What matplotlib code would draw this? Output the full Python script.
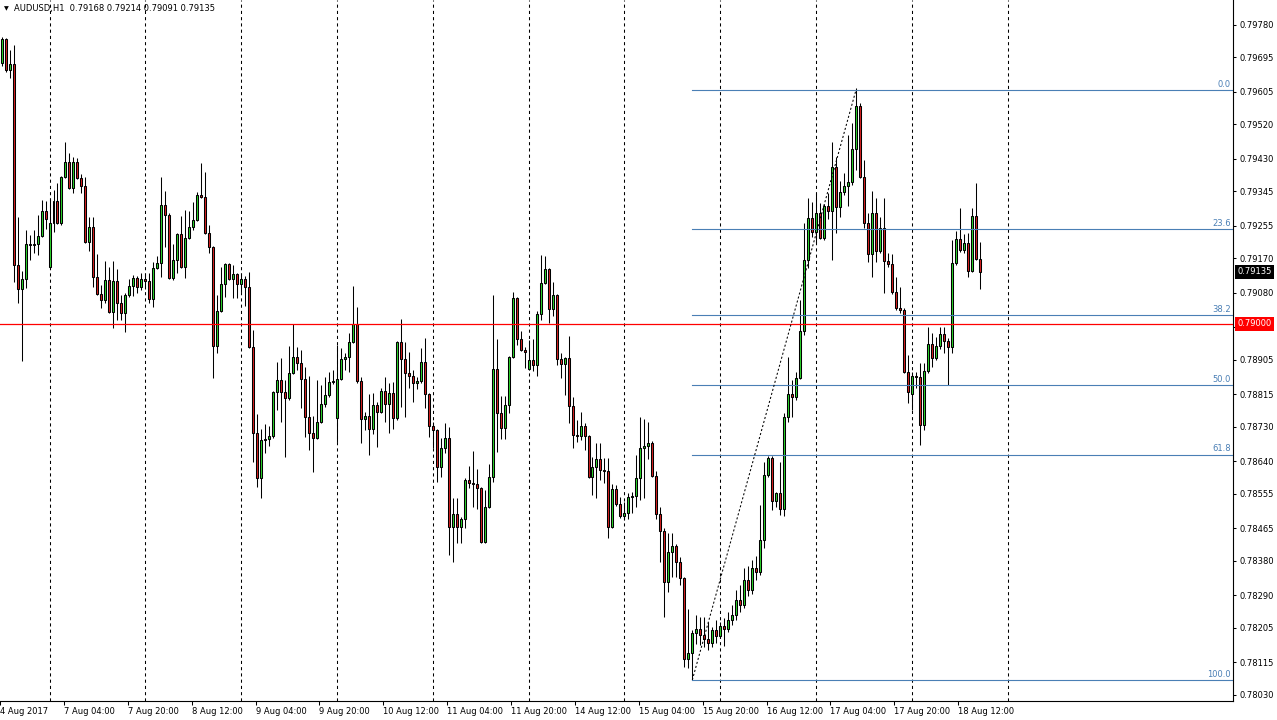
import matplotlib
matplotlib.use("Agg")
import matplotlib.pyplot as plt
from matplotlib.patches import Rectangle
from matplotlib.transforms import blended_transform_factory
import numpy as np

# AUDUSD H1 candles, prices in points (1 point = 0.00001)
open_pts = [
    79680, 79743, 79662, 79678, 79153, 79090, 79116, 79208, 79205, 79208, 79229, 79294,
    79148, 79263, 79320, 79263, 79383, 79422, 79354, 79422, 79380, 79359, 79213, 79252,
    79121, 79077, 79061, 79114, 79030, 79111, 79054, 79027, 79074, 79098, 79119, 79095,
    79116, 79112, 79064, 79145, 79158, 79310, 79283, 79119, 79166, 79234, 79148, 79223,
    79252, 79270, 79336, 79330, 79236, 79200, 78941, 79033, 79103, 79155, 79116, 79129,
    79103, 79116, 79095, 78939, 78714, 78597, 78696, 78699, 78706, 78821, 78852, 78821,
    78805, 78871, 78913, 78897, 78855, 78756, 78714, 78701, 78743, 78790, 78813, 78847,
    78753, 78855, 78907, 78913, 78952, 78999, 78850, 78751, 78758, 78725, 78787, 78769,
    78824, 78790, 78818, 78753, 78952, 78907, 78871, 78863, 78845, 78850, 78900, 78816,
    78732, 78722, 78625, 78675, 78701, 78469, 78502, 78469, 78489, 78591, 78583, 78580,
    78570, 78429, 78521, 78599, 78881, 78766, 78727, 78787, 78913, 79067, 78960, 78931,
    78881, 78905, 78892, 79025, 79106, 79142, 79038, 79074, 78907, 78894, 78910, 78785,
    78709, 78706, 78732, 78706, 78599, 78625, 78646, 78617, 78615, 78469, 78568, 78529,
    78497, 78505, 78547, 78550, 78597, 78675, 78680, 78688, 78602, 78502, 78458, 78325,
    78403, 78419, 78377, 78335, 78124, 78139, 78192, 78202, 78186, 78176, 78165, 78199,
    78184, 78210, 78202, 78226, 78239, 78278, 78265, 78330, 78304, 78361, 78351, 78435,
    78604, 78649, 78536, 78558, 78515, 78756, 78816, 78808, 78858, 78980, 79166, 79276,
    79239, 79289, 79223, 79307, 79294, 79409, 79304, 79344, 79359, 79370, 79456, 79568,
    79383, 79263, 79182, 79289, 79189, 79250, 79163, 79155, 79082, 79040, 79036, 78873,
    78815, 78863, 78860, 78735, 78876, 78946, 78910, 78941, 78973, 78954, 78939, 79158,
    79221, 79192, 79210, 79137, 79281, 79168,
]
high_pts = [
    79748, 79746, 79714, 79727, 79278, 79137, 79244, 79231, 79244, 79283, 79323, 79320,
    79328, 79349, 79367, 79385, 79474, 79445, 79435, 79432, 79391, 79383, 79278, 79278,
    79182, 79101, 79163, 79148, 79163, 79142, 79074, 79080, 79116, 79127, 79124, 79132,
    79132, 79132, 79161, 79176, 79383, 79346, 79289, 79208, 79236, 79281, 79297, 79294,
    79317, 79344, 79419, 79396, 79257, 79202, 79074, 79148, 79158, 79158, 79153, 79132,
    79132, 79124, 79135, 78983, 78764, 78725, 78738, 78732, 78823, 78900, 78910, 78852,
    78941, 78999, 78939, 78931, 78886, 78863, 78758, 78852, 78839, 78860, 78873, 78879,
    78944, 78936, 78923, 78975, 79098, 79043, 78860, 78769, 78816, 78818, 78795, 78832,
    78860, 78845, 78847, 78955, 79012, 78952, 78926, 78879, 78860, 78936, 78962, 78818,
    78743, 78724, 78701, 78740, 78730, 78544, 78544, 78495, 78597, 78628, 78667, 78620,
    78572, 78565, 78633, 79074, 78960, 78811, 78811, 78915, 79082, 79069, 78980, 78939,
    78957, 78960, 79033, 79179, 79176, 79145, 79108, 79077, 78923, 78913, 78967, 78808,
    78748, 78769, 78740, 78709, 78651, 78688, 78688, 78649, 78649, 78581, 78578, 78547,
    78534, 78557, 78560, 78657, 78756, 78751, 78743, 78693, 78615, 78521, 78466, 78453,
    78453, 78424, 78390, 78337, 78254, 78199, 78239, 78233, 78233, 78220, 78207, 78226,
    78220, 78231, 78247, 78265, 78304, 78317, 78361, 78367, 78382, 78393, 78526, 78638,
    78654, 78654, 78560, 78638, 78766, 78913, 78852, 78873, 79061, 79263, 79328, 79317,
    79341, 79315, 79312, 79341, 79474, 79435, 79372, 79393, 79492, 79524, 79615, 79576,
    79427, 79289, 79346, 79328, 79278, 79328, 79184, 79182, 79121, 79095, 79040, 78918,
    78873, 78873, 78897, 78897, 78991, 78975, 78965, 78991, 78991, 78962, 79218, 79242,
    79302, 79234, 79236, 79302, 79367, 79214,
]
low_pts = [
    79673, 79657, 79641, 79108, 79054, 78902, 79093, 79166, 79184, 79179, 79227, 79247,
    79146, 79239, 79260, 79257, 79380, 79351, 79341, 79378, 79341, 79210, 79189, 79095,
    79074, 79040, 79054, 79027, 78988, 79009, 79009, 78978, 79069, 79072, 79080, 79088,
    79090, 79054, 79043, 79142, 79121, 79200, 79117, 79114, 79132, 79146, 79119, 79221,
    79244, 79268, 79328, 79234, 79184, 78858, 78923, 79030, 79069, 79114, 79067, 79067,
    79082, 79046, 78936, 78638, 78573, 78544, 78662, 78680, 78701, 78774, 78743, 78651,
    78800, 78868, 78879, 78779, 78704, 78670, 78612, 78698, 78740, 78782, 78808, 78842,
    78690, 78852, 78879, 78873, 78950, 78845, 78688, 78722, 78657, 78711, 78677, 78766,
    78743, 78714, 78725, 78748, 78782, 78756, 78832, 78795, 78829, 78845, 78779, 78704,
    78675, 78586, 78599, 78662, 78395, 78377, 78427, 78427, 78466, 78570, 78521, 78515,
    78427, 78427, 78518, 78586, 78664, 78698, 78698, 78766, 78910, 78944, 78928, 78884,
    78879, 78876, 78863, 79009, 79103, 79001, 79020, 78892, 78858, 78813, 78740, 78675,
    78690, 78696, 78670, 78596, 78552, 78544, 78591, 78583, 78440, 78466, 78523, 78492,
    78487, 78489, 78505, 78521, 78539, 78544, 78646, 78599, 78489, 78377, 78233, 78299,
    78338, 78338, 78317, 78103, 78100, 78069, 78163, 78160, 78155, 78147, 78155, 78165,
    78181, 78158, 78194, 78213, 78226, 78247, 78257, 78288, 78293, 78330, 78343, 78414,
    78599, 78513, 78521, 78500, 78497, 78743, 78756, 78800, 78855, 78970, 79145, 79226,
    79210, 79221, 79218, 79273, 79166, 79236, 79278, 79336, 79307, 79362, 79401, 79380,
    79250, 79161, 79121, 79161, 79184, 79080, 79148, 79077, 79035, 79027, 78871, 78792,
    78774, 78832, 78683, 78722, 78871, 78886, 78905, 78933, 78923, 78839, 78923, 79153,
    79187, 79184, 79121, 79135, 79166, 79091,
]
close_pts = [
    79743, 79662, 79678, 79153, 79090, 79116, 79208, 79205, 79208, 79229, 79294, 79273,
    79263, 79320, 79263, 79383, 79422, 79354, 79422, 79380, 79359, 79213, 79252, 79121,
    79077, 79061, 79114, 79030, 79111, 79054, 79027, 79074, 79098, 79119, 79095, 79116,
    79112, 79064, 79145, 79158, 79310, 79283, 79119, 79166, 79234, 79148, 79223, 79252,
    79270, 79336, 79330, 79236, 79200, 78941, 79033, 79103, 79155, 79116, 79129, 79103,
    79116, 79095, 78939, 78714, 78597, 78696, 78699, 78706, 78821, 78852, 78821, 78805,
    78871, 78913, 78897, 78855, 78756, 78714, 78701, 78743, 78790, 78813, 78847, 78850,
    78855, 78907, 78913, 78952, 78999, 78850, 78751, 78758, 78725, 78787, 78769, 78824,
    78790, 78818, 78753, 78952, 78907, 78871, 78863, 78845, 78850, 78900, 78816, 78732,
    78722, 78625, 78675, 78701, 78469, 78502, 78469, 78489, 78591, 78583, 78580, 78570,
    78429, 78521, 78599, 78881, 78766, 78727, 78787, 78913, 79067, 78960, 78931, 78926,
    78905, 78892, 79025, 79106, 79142, 79038, 79074, 78907, 78894, 78910, 78785, 78709,
    78706, 78732, 78706, 78599, 78625, 78646, 78617, 78615, 78469, 78568, 78529, 78497,
    78505, 78547, 78550, 78597, 78675, 78680, 78688, 78602, 78502, 78458, 78325, 78403,
    78419, 78377, 78335, 78124, 78139, 78192, 78202, 78186, 78176, 78165, 78199, 78184,
    78210, 78202, 78226, 78239, 78278, 78265, 78330, 78304, 78361, 78351, 78435, 78604,
    78649, 78536, 78558, 78515, 78756, 78816, 78808, 78858, 78980, 79166, 79276, 79239,
    79289, 79223, 79307, 79294, 79409, 79304, 79344, 79359, 79370, 79456, 79568, 79383,
    79263, 79182, 79289, 79189, 79250, 79163, 79155, 79082, 79040, 79036, 78873, 78821,
    78863, 78860, 78735, 78876, 78946, 78910, 78941, 78973, 78954, 78939, 79158, 79221,
    79192, 79210, 79137, 79281, 79168, 79135,
]

time_labels = ["4 Aug 2017", "7 Aug 04:00", "7 Aug 20:00", "8 Aug 12:00", "9 Aug 04:00",
               "9 Aug 20:00", "10 Aug 12:00", "11 Aug 04:00", "11 Aug 20:00", "14 Aug 12:00",
               "15 Aug 04:00", "15 Aug 20:00", "16 Aug 12:00", "17 Aug 04:00", "17 Aug 20:00",
               "18 Aug 12:00"]
label_step = 16                          # bars between time labels
day_starts = list(range(12, 253, 24))    # bar index of each 00:00 separator

price_ticks = [0.79780, 0.79695, 0.79605, 0.79520, 0.79430, 0.79345, 0.79255, 0.79170,
               0.79080, 0.78990, 0.78905, 0.78815, 0.78730, 0.78640, 0.78555, 0.78465,
               0.78380, 0.78290, 0.78205, 0.78115, 0.78030]

level_line = 0.79000
fib_levels = [0.0, 23.6, 38.2, 50.0, 61.8, 100.0]
fib_start, fib_end = 173, 214            # swing low bar, swing high bar
fib_low, fib_high = 0.78069, 0.79610

o = np.array(open_pts) / 1e5
h = np.array(high_pts) / 1e5
l = np.array(low_pts) / 1e5
c = np.array(close_pts) / 1e5
idx = np.arange(len(o))

UP = "#2bd42b"
DOWN = "#d62020"
FIB = "#4a7fb5"

W, H = 1277, 720
fig = plt.figure(figsize=(W / 100, H / 100), dpi=100)
fig.patch.set_facecolor("white")
ax = fig.add_axes([0, 19 / H, 1233 / W, 701 / H])
ax.set_facecolor("white")
xmin, xmax = 0.175, 308.425
ax.set_xlim(xmin, xmax)
ax.set_ylim(0.78014, 0.79845)

# day separators
for d in day_starts:
    ax.axvline(d, color="black", lw=0.75, ls=(0, (3, 3)), zorder=1)

# candles
ax.vlines(idx, l, h, color="black", lw=0.75, zorder=2)
for i in idx:
    bottom = min(o[i], c[i])
    ax.add_patch(Rectangle((i - 0.25, bottom), 0.5, abs(c[i] - o[i]),
                           facecolor=UP if c[i] >= o[i] else DOWN,
                           edgecolor="black", lw=0.75, zorder=3))

# horizontal level
ax.axhline(level_line, color="#ff0000", lw=0.9, zorder=4)

# fibonacci retracement
for lv in fib_levels:
    p = fib_high - lv / 100 * (fib_high - fib_low)
    ax.plot([fib_start, xmax], [p, p], color=FIB, lw=0.8, zorder=4)
    ax.text(xmax - 0.6, p + 0.00003, f"{lv:.1f}", color=FIB, fontsize=6,
            ha="right", va="bottom", zorder=5)
ax.plot([fib_start, fib_end], [fib_low, fib_high], color="black", lw=0.75,
        ls=(0, (2, 2)), zorder=4)

# axes styling
for side in ["top", "left"]:
    ax.spines[side].set_visible(False)
for side in ["right", "bottom"]:
    ax.spines[side].set_linewidth(0.8)
    ax.spines[side].set_color("black")

ax.yaxis.tick_right()
ax.set_yticks(price_ticks)
# the tick under the red level box keeps its mark but its label is covered
ax.set_yticklabels(["" if abs(t - level_line) < 0.0002 else f"{t:.5f}" for t in price_ticks])
ax.tick_params(axis="y", length=2.5, width=0.75, pad=2.5, labelsize=6, colors="black")

ax.set_xticks([k * label_step - 0.4 for k in range(len(time_labels))])
ax.set_xticklabels(time_labels)
for lbl in ax.get_xticklabels():
    lbl.set_horizontalalignment("left")
ax.tick_params(axis="x", length=3, width=0.75, pad=1.2, labelsize=6, colors="black")

# price boxes on the scale
blend = blended_transform_factory(ax.transAxes, ax.transData)
for val, bg in [(c[-1], "black"), (level_line, "#ff0000")]:
    ax.text(1 + 4 / 1233, val, f"{val:.5f}", transform=blend, color="white",
            fontsize=6, ha="left", va="center", clip_on=False, zorder=10,
            bbox=dict(boxstyle="square,pad=0.3", fc=bg, ec="none"))

# header
fig.text(4 / W, 1 - 9 / H, "\u25bc", fontsize=4.5, va="center", ha="left")
fig.text(14 / W, 1 - 9 / H,
         f"AUDUSD,H1  {o[-1]:.5f} {h[-1]:.5f} {l[-1]:.5f} {c[-1]:.5f}",
         fontsize=6, va="center", ha="left")

fig.savefig("out.png", dpi=100)
